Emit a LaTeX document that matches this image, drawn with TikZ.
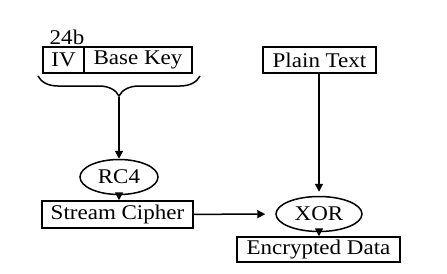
\documentclass[tikz,border=0pt]{standalone}
\usepackage{fontspec}
\setmainfont{Liberation Serif}[FakeStretch=1.1]
\usetikzlibrary{positioning, shapes.geometric, arrows.meta, decorations.pathreplacing}

\begin{document}
\begin{tikzpicture}[
  x=1bp, y=-1bp,
  font=\fontsize{21}{25}\selectfont,
  line width=1.5bp,
  box/.style={draw, rectangle, inner sep=0pt, minimum height=26bp},
  oval/.style={draw, ellipse, inner sep=0pt, minimum height=35bp},
  arrow/.style={-{Triangle[width=8bp,length=8bp]}},
  curly/.style={decorate, decoration={brace, mirror, amplitude=20bp}},
]
\useasboundingbox[fill=white] (0,0) rectangle (447,273);

% Key material on the left
\node[box, minimum width=41bp] (iv) at (63.5,60) {IV};
\node[box, minimum width=108bp] (basekey) at (138,60) {Base Key};
\node (size) at (67,37.5) {24b};
\coordinate (brleft) at (38,76);
\coordinate (brright) at (200,76);
\coordinate (brtip) at (119,97);
\draw[curly] (brleft) -- (brright);

% Cipher chain
\node[oval, minimum width=78bp] (rc4) at (119,177) {RC4};
\node[box, minimum width=151bp, minimum height=27bp] (stream) at (117.5,214.5) {Stream Cipher};
\node[box, minimum width=113bp] (plain) at (319.5,60) {Plain Text};
\node[oval, minimum width=86bp] (xor) at (319,214) {XOR};
\node[box, minimum width=163bp, minimum height=25bp] (encrypted) at (318.5,249.5) {Encrypted Data};

% Arrows
\draw[arrow] (brtip) -- (rc4.north);
\draw[arrow] (rc4.south) -- (rc4.south |- stream.north);
\draw[arrow, shorten >=10bp] (stream) -- (xor);
\draw[arrow, shorten >=4bp] (plain.south -| xor.north) -- (xor.north);
\draw[arrow] (xor.south) -- (xor.south |- encrypted.north);

\end{tikzpicture}
\end{document}
